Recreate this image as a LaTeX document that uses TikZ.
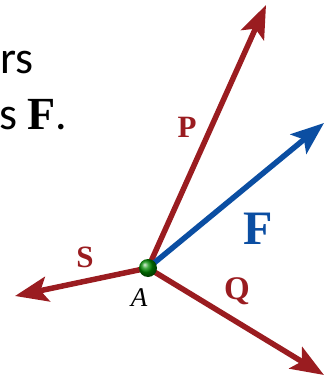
\documentclass[tikz,border=0pt]{standalone}
\usepackage{fontspec}
\setmainfont{Carlito}
\newfontfamily\lserif{Liberation Serif}
\usetikzlibrary{arrows.meta}
\definecolor{vred}{HTML}{9A1C20}
\definecolor{vblue}{HTML}{0B4EA2}
\begin{document}
\begin{tikzpicture}[x=1pt,y=-1pt,
  vec/.style={line width=5.5pt,-{Stealth[length=33pt,width=25pt,inset=7pt]}},
  lbl/.style={font=\lserif\bfseries, inner sep=0pt}]
\useasboundingbox (0,0) rectangle (329,377);
\clip (0,0) rectangle (329,377);
\node[anchor=base east, inner sep=0pt, font=\fontsize{46}{55}\selectfont] (t1) at (34,74) {rs};
\node[anchor=base west, inner sep=0pt, font=\fontsize{46}{55}\selectfont] (t2) at (-1,129) {s {\lserif\bfseries F}.};
\coordinate (A) at (148,268);
\coordinate (P) at (266,5);
\coordinate (F) at (324,123);
\coordinate (Q) at (324,375);
\coordinate (S) at (15,296);
\draw[vec, vred] (A) -- (P);
\draw[vec, vred] (A) -- (Q);
\draw[vec, vred] (A) -- (S);
\draw[vec, vblue] (A) -- (F);
\shade[ball color=green!55!black] (A) circle (9);
\node[lbl, vred, font=\fontsize{31}{33}\lserif\bfseries] (lP) at (187,127) {P};
\node[lbl, vred, font=\fontsize{31}{33}\lserif\bfseries] (lS) at (85,257) {S};
\node[lbl, vred, font=\fontsize{33}{35}\lserif\bfseries] (lQ) at (237,291) {Q};
\node[lbl, vblue, font=\fontsize{48}{50}\lserif\bfseries] (lF) at (258,229) {F};
\node[inner sep=0pt, font=\fontsize{27}{29}\lserif\itshape] (lA) at (139,298) {A};
\end{tikzpicture}
\end{document}
